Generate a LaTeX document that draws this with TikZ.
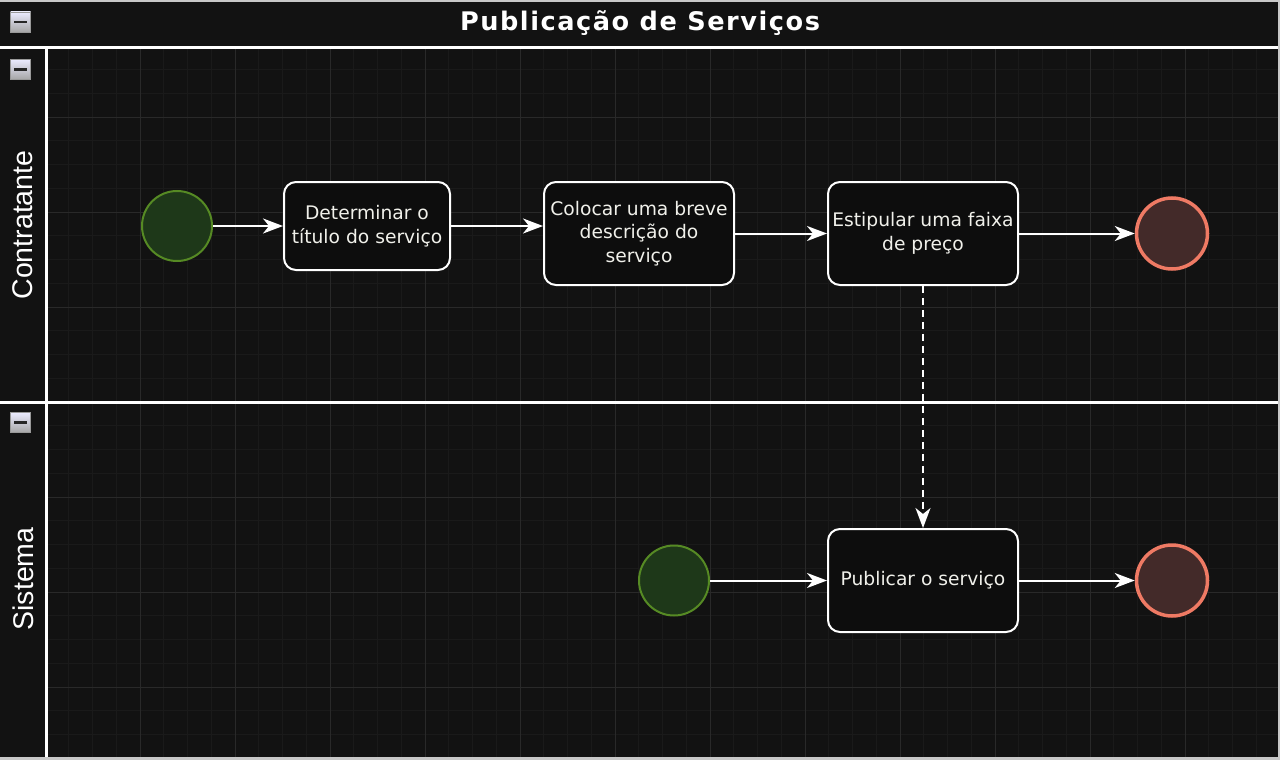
\documentclass[tikz,border=0pt]{standalone}
\usepackage{fontspec}
\setmainfont{DejaVu Sans}
\newfontfamily\lanefont{Liberation Sans}
\newfontfamily\titlefont{DejaVu Sans Bold}[LetterSpace=6]
\usetikzlibrary{arrows.meta}

\definecolor{poolbg}{HTML}{121212}
\definecolor{edgegray}{HTML}{C8C8C8}
\definecolor{minorgray}{HTML}{1A1A1A}
\definecolor{majorgray}{HTML}{292929}
\definecolor{startfill}{HTML}{1E3819}
\definecolor{startline}{HTML}{568A24}
\definecolor{endfill}{HTML}{432A29}
\definecolor{endline}{HTML}{EF7A64}
\definecolor{textwhite}{HTML}{F0F0EA}

\begin{document}
\begin{tikzpicture}[x=1pt, y=-1pt,
        minorgrid/.style={draw=minorgray, line width=0.8pt},
        majorgrid/.style={draw=majorgray, line width=1pt},
        laneline/.style={draw=white, line width=2.5pt},
        btn/.style={draw=gray!80, top color=white!92!blue, bottom color=gray!70, minimum size=20pt, inner sep=0pt},
        btnbar/.style={draw=black!85, line width=2.5pt},
        lanelabel/.style={text=white, rotate=90, font=\lanefont\fontsize{28.5}{30}\selectfont},
        start/.style={circle, draw=startline, fill=startfill, line width=2pt, minimum size=70pt},
        stop/.style={circle, draw=endline, fill=endfill, line width=3.5pt, minimum size=71pt},
        task/.style={rectangle, rounded corners=12pt, draw=white, fill=black!95, line width=2pt,
            text=textwhite, align=center, inner sep=2pt, font=\fontsize{18.7}{23.5}\selectfont},
        flow/.style={draw=white, line width=2pt, -{Stealth[length=20pt, width=15pt, inset=6pt]}},
        msg/.style={flow, dash pattern=on 7pt off 5pt}]
        \useasboundingbox (0,0) rectangle (1280,760);
        \fill[edgegray] (0,0) rectangle (1280,760);
        \fill[poolbg] (0,2) rectangle (1278,757);

        \foreach \k in {1,...,51}
            \draw[minorgrid] ({45+23.75*\k},48) -- ({45+23.75*\k},757);
        \foreach \k in {2,...,30}
            \draw[minorgrid] (48,{22+23.75*\k}) -- (1278,{22+23.75*\k});
        \foreach \k in {1,...,12}
            \draw[majorgrid] ({45+95*\k},48) -- ({45+95*\k},757);
        \foreach \k in {1,...,7}
            \draw[majorgrid] (48,{22+95*\k}) -- (1278,{22+95*\k});

        \fill[poolbg] (0,2) rectangle (46,757);
        \draw[laneline] (0,47.5) -- (1278,47.5);
        \draw[laneline] (46.5,47.5) -- (46.5,757);
        \draw[laneline] (0,402.5) -- (1278,402.5);

        \node[text=white, font=\titlefont\fontsize{25.6}{28}\selectfont] (title) at (640,23) {Publicação de Serviços};
        \node[lanelabel] (contratante) at (23,225) {Contratante};
        \node[lanelabel] (sistema) at (23,579) {Sistema};

        \node[btn] (btnpool) at (20.5,22) {};
        \node[btn] (btncontr) at (20.5,69.5) {};
        \node[btn] (btnsist) at (20.5,422.5) {};
        \draw[btnbar] ([xshift=4pt]btnpool.west) -- ([xshift=-4pt]btnpool.east);
        \draw[btnbar] ([xshift=4pt]btncontr.west) -- ([xshift=-4pt]btncontr.east);
        \draw[btnbar] ([xshift=4pt]btnsist.west) -- ([xshift=-4pt]btnsist.east);

        \node[start] (st1) at (177,226) {};
        \node[task, minimum width=166pt, minimum height=88pt] (titulo) at (367,226) {Determinar o\\título do serviço};
        \node[task, minimum width=190pt, minimum height=103pt] (descr) at (639,233.5) {Colocar uma breve\\descrição do\\serviço};
        \node[task, minimum width=190pt, minimum height=103pt] (preco) at (923,233.5) {Estipular uma faixa\\de preço};
        \node[stop] (end1) at (1172,233.5) {};

        \node[start] (st2) at (674,580.5) {};
        \node[task, minimum width=190pt, minimum height=103pt] (publicar) at (923,580.5) {Publicar o serviço};
        \node[stop] (end2) at (1172,580.5) {};

        \draw[flow] (st1) -- (titulo);
        \draw[flow] (titulo.east) -- (titulo.east -| descr.west);
        \draw[flow] (descr) -- (preco);
        \draw[flow] (preco) -- (end1);
        \draw[msg] (preco) -- (publicar);
        \draw[flow] (st2) -- (publicar);
        \draw[flow] (publicar) -- (end2);
      \end{tikzpicture}
\end{document}
